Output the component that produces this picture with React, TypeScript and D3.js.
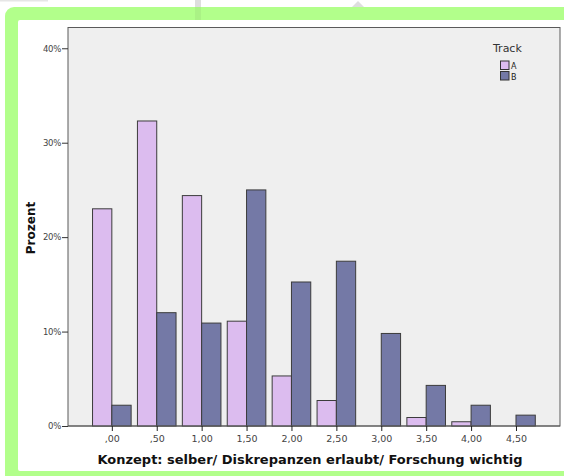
import React, { useRef, useEffect } from 'react';
import * as d3 from 'd3';

// category centres (numeric) and their German tick labels
const CATEGORIES: number[] = [0, 0.5, 1, 1.5, 2, 2.5, 3, 3.5, 4, 4.5];
const TICK_LABELS: string[] = [',00', ',50', '1,00', '1,50', '2,00', '2,50', '3,00', '3,50', '4,00', '4,50'];

// percentages per track
const TRACK_A: number[] = [23.0, 32.3, 24.4, 11.1, 5.3, 2.7, 0, 0.9, 0.45, 0];
const TRACK_B: number[] = [2.2, 12.0, 10.9, 25.0, 15.25, 17.45, 9.8, 4.3, 2.2, 1.15];

const Y_TICKS: number[] = [0, 10, 20, 30, 40];
const SERIES_NAMES: string[] = ['A', 'B'];

const COLORS: Record<string, string> = {
  A: '#dcbcef',
  B: '#7479a6',
};

const WIDTH = 564;
const HEIGHT = 476;
const FONT = 'DejaVu Sans, Verdana, sans-serif';

const App: React.FC = () => {
  const svgRef = useRef<SVGSVGElement>(null);

  useEffect(() => {
    if (!svgRef.current) return;
    const svg = d3.select(svgRef.current);
    svg.selectAll('*').remove();

    const plot = { left: 68, right: 560, top: 27.5, bottom: 426 };

    // background: screenshot strip + green frame + white panel
    svg.append('rect').attr('x', 0).attr('y', 0).attr('width', WIDTH).attr('height', HEIGHT).attr('fill', '#ffffff');
    svg.append('rect').attr('x', 0).attr('y', 0).attr('width', 48).attr('height', 1.5).attr('fill', '#e6e6e6');
    svg.append('rect').attr('x', 195).attr('y', 0).attr('width', 6).attr('height', 20).attr('fill', '#dedede');
    svg
      .append('path')
      .attr('d', 'M352,7 L358,1 L364,7 Z')
      .attr('fill', '#dedede');
    svg
      .append('rect')
      .attr('x', 5)
      .attr('y', 7)
      .attr('width', 620)
      .attr('height', 500)
      .attr('rx', 9)
      .attr('fill', '#b2ff8b');
    svg.append('rect').attr('x', 195).attr('y', 7).attr('width', 6).attr('height', 13).attr('fill', '#aaf285');
    svg
      .append('rect')
      .attr('x', 18)
      .attr('y', 20)
      .attr('width', 600)
      .attr('height', 451)
      .attr('rx', 2)
      .attr('fill', '#ffffff');

    // scales
    const xScale = d3.scaleLinear().domain([-0.488, 4.99]).range([plot.left, plot.right]);
    const yScale = d3.scaleLinear().domain([0, 42.2]).range([plot.bottom, plot.top]);
    const barWidth = 19.3;

    // plot area
    svg
      .append('rect')
      .attr('x', plot.left)
      .attr('y', plot.top)
      .attr('width', plot.right - plot.left)
      .attr('height', plot.bottom - plot.top)
      .attr('fill', '#efefef')
      .attr('stroke', '#5a5a5a')
      .attr('stroke-width', 1);

    // bars
    const rows = CATEGORIES.map((c, i) => ({ c, a: TRACK_A[i], b: TRACK_B[i] }));
    const g = svg.append('g');
    rows.forEach((d) => {
      const cx = xScale(d.c);
      if (d.a > 0) {
        g.append('rect')
          .attr('x', cx - barWidth)
          .attr('y', yScale(d.a))
          .attr('width', barWidth)
          .attr('height', yScale(0) - yScale(d.a))
          .attr('fill', COLORS.A)
          .attr('stroke', '#3c3c3c')
          .attr('stroke-width', 1);
      }
      if (d.b > 0) {
        g.append('rect')
          .attr('x', cx)
          .attr('y', yScale(d.b))
          .attr('width', barWidth)
          .attr('height', yScale(0) - yScale(d.b))
          .attr('fill', COLORS.B)
          .attr('stroke', '#3c3c3c')
          .attr('stroke-width', 1);
      }
    });

    // baseline
    svg
      .append('line')
      .attr('x1', plot.left)
      .attr('x2', plot.right)
      .attr('y1', plot.bottom)
      .attr('y2', plot.bottom)
      .attr('stroke', '#5a5a5a');

    // y axis
    const yAxis = d3
      .axisLeft(yScale)
      .tickValues(Y_TICKS)
      .tickSize(6)
      .tickPadding(1)
      .tickFormat((d) => `${d}%`);
    const yg = svg.append('g').attr('transform', `translate(${plot.left},0)`).call(yAxis);
    yg.select('.domain').remove();
    yg.selectAll('line').attr('stroke', '#333');
    yg.selectAll('text')
      .attr('font-family', FONT)
      .attr('font-size', '8.5px')
      .attr('letter-spacing', '-0.3px')
      .attr('fill', '#444');

    // x axis
    const xAxis = d3
      .axisBottom(xScale)
      .tickValues(CATEGORIES)
      .tickSize(5)
      .tickPadding(4)
      .tickFormat((d, i) => TICK_LABELS[i]);
    const xg = svg.append('g').attr('transform', `translate(0,${plot.bottom})`).call(xAxis);
    xg.select('.domain').remove();
    xg.selectAll('line').attr('stroke', '#222');
    xg.selectAll('text')
      .attr('font-family', FONT)
      .attr('font-size', '9.5px')
      .attr('fill', '#444');

    // axis titles
    svg
      .append('text')
      .attr('x', 310)
      .attr('y', 464)
      .attr('text-anchor', 'middle')
      .attr('font-family', FONT)
      .attr('font-weight', 'bold')
      .attr('font-size', '12.5px')
      .attr('textLength', 425)
      .attr('lengthAdjust', 'spacingAndGlyphs')
      .attr('fill', '#111')
      .text('Konzept: selber/ Diskrepanzen erlaubt/ Forschung wichtig');

    svg
      .append('text')
      .attr('transform', 'translate(35,228) rotate(-90)')
      .attr('text-anchor', 'middle')
      .attr('font-family', FONT)
      .attr('font-weight', 'bold')
      .attr('font-size', '12px')
      .attr('fill', '#111')
      .text('Prozent');

    // legend
    const legend = svg.append('g').attr('transform', 'translate(493,52)');
    legend
      .append('text')
      .attr('x', 0)
      .attr('y', 0)
      .attr('font-family', FONT)
      .attr('font-size', '11px')
      .attr('fill', '#333')
      .text('Track');
    SERIES_NAMES.forEach((name, i) => {
      const row = legend.append('g').attr('transform', `translate(7.5, ${9 + i * 10.5})`);
      row
        .append('rect')
        .attr('width', 8.5)
        .attr('height', 8.5)
        .attr('fill', COLORS[name])
        .attr('stroke', '#333')
        .attr('stroke-width', 1);
      row
        .append('text')
        .attr('x', 10.5)
        .attr('y', 8)
        .attr('font-family', FONT)
        .attr('font-size', '8px')
        .attr('fill', '#222')
        .text(name);
    });
  }, []);

  return (
    <svg
      ref={svgRef}
      width={WIDTH}
      height={HEIGHT}
      style={{ position: 'absolute', left: 0, top: 0, display: 'block' }}
    />
  );
};

export default App;
